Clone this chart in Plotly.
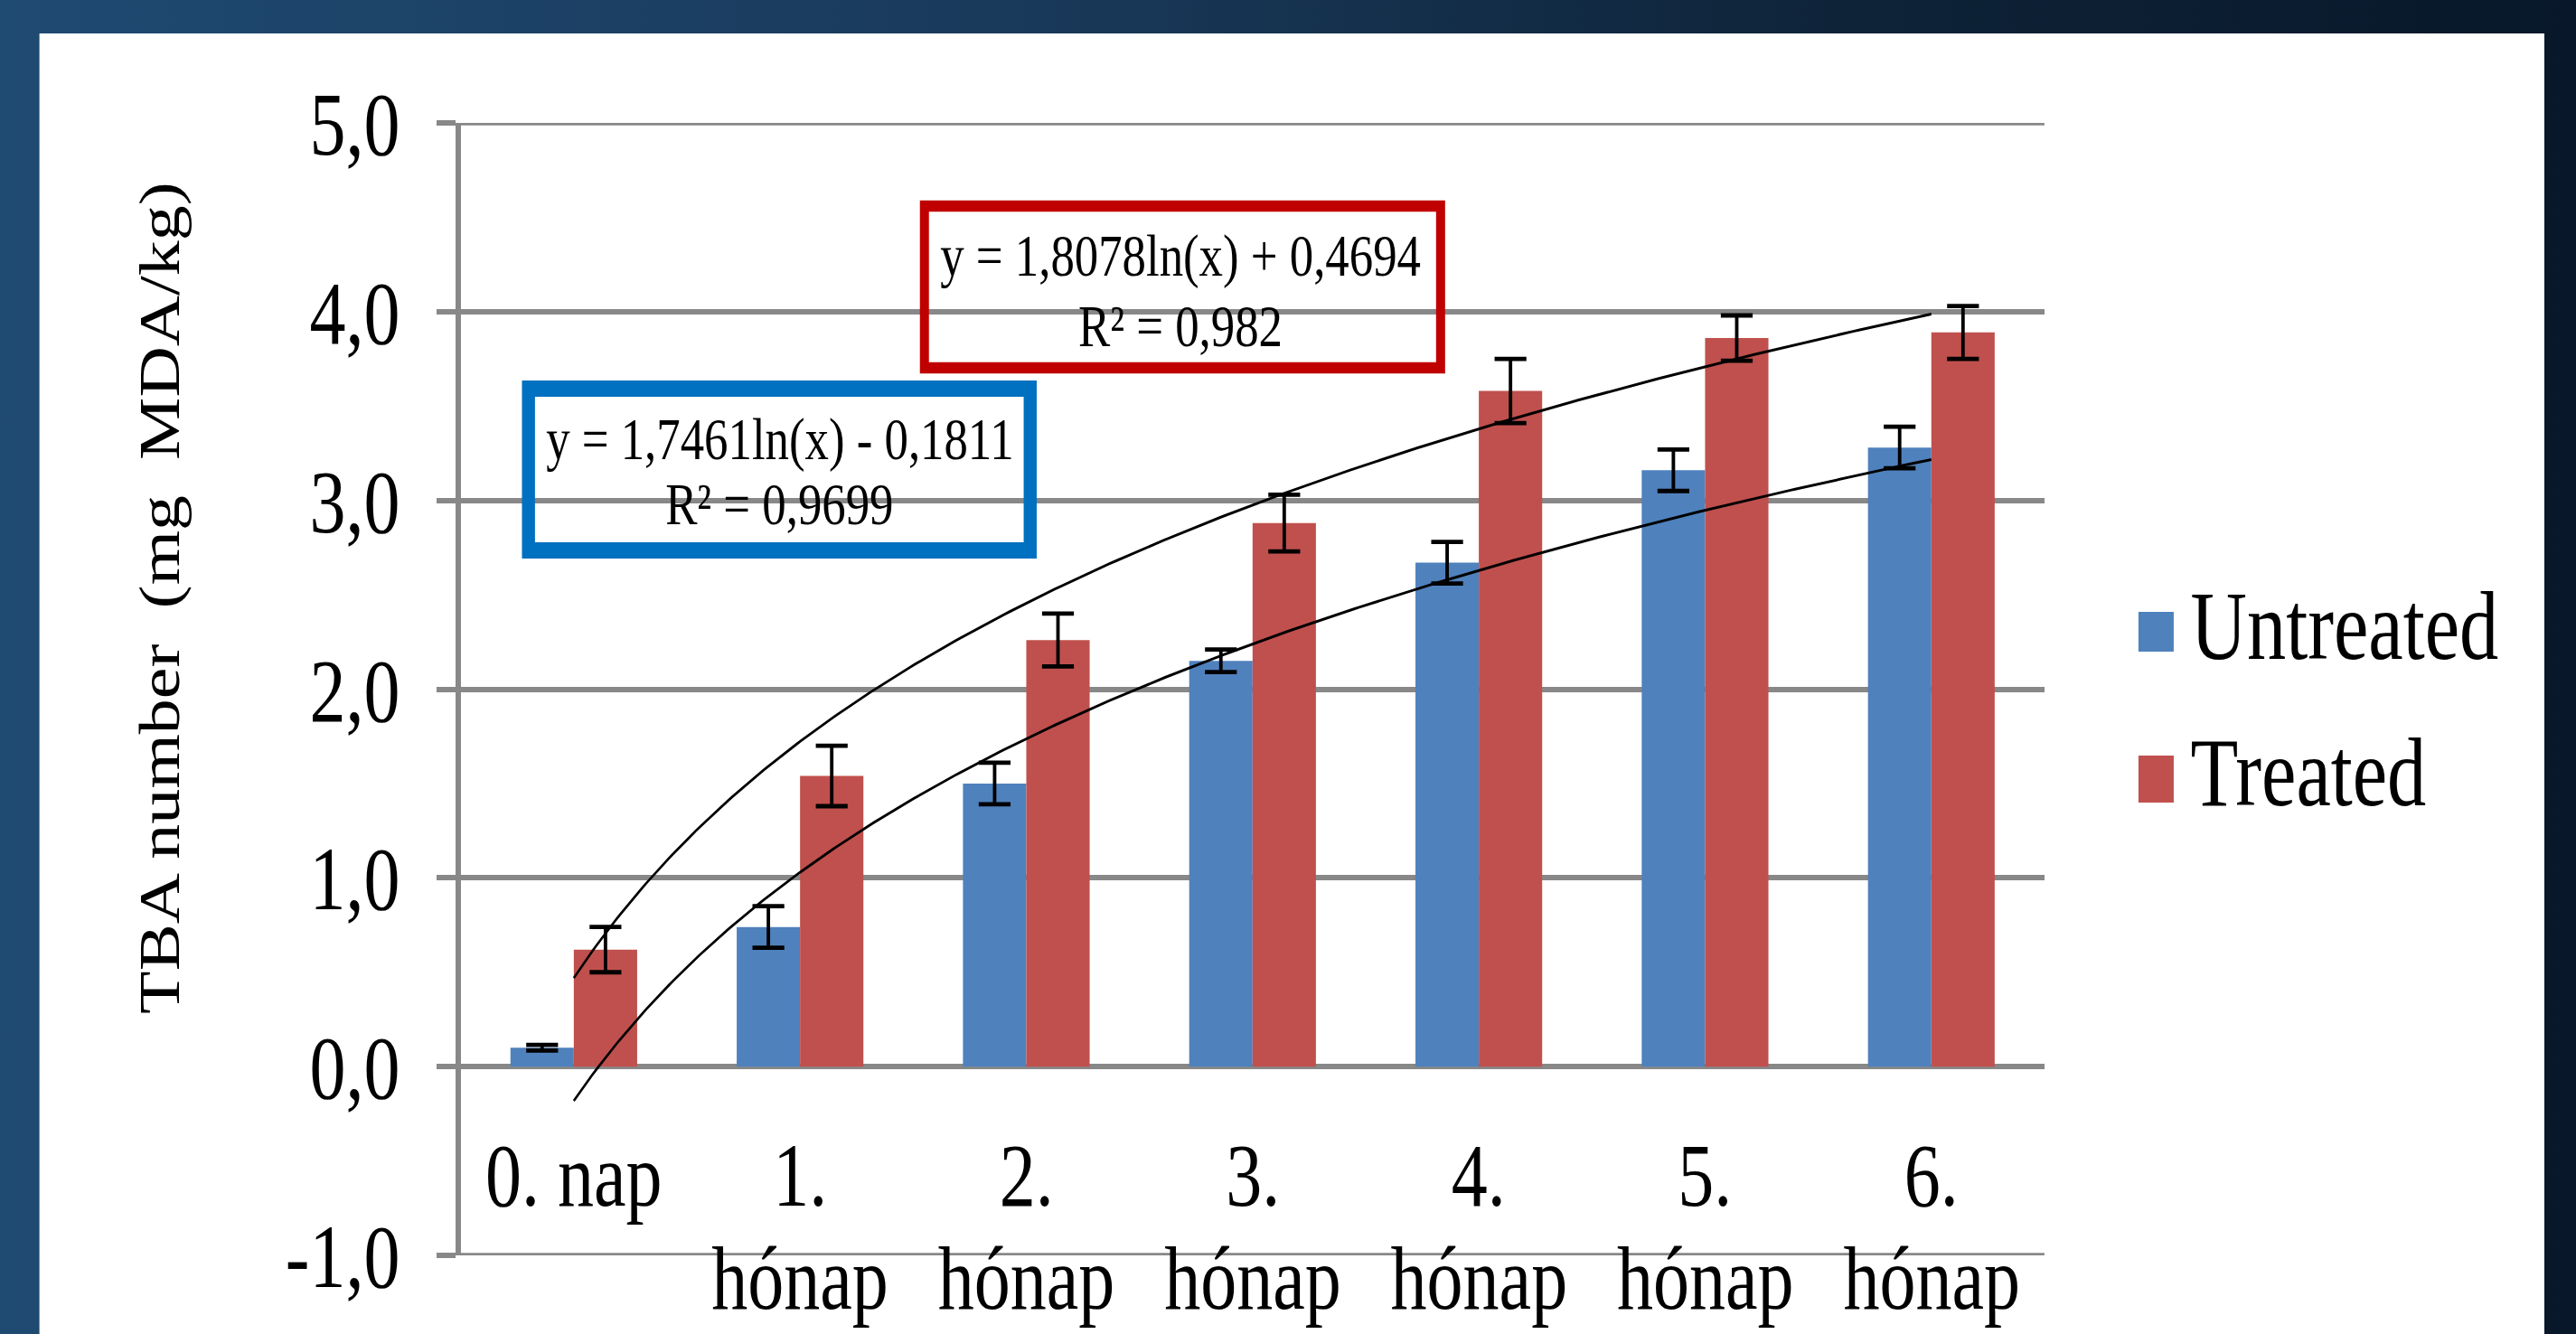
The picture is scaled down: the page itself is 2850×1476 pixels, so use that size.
import numpy as np
import plotly.graph_objects as go

# ---- data -------------------------------------------------------------
categories_line1 = ["0. nap", "1.", "2.", "3.", "4.", "5.", "6."]
categories_line2 = ["", "hónap", "hónap", "hónap", "hónap", "hónap", "hónap"]
series_names = ["Untreated", "Treated"]

untreated = [0.10, 0.74, 1.50, 2.15, 2.67, 3.16, 3.28]
untreated_err = [0.015, 0.11, 0.11, 0.06, 0.11, 0.11, 0.11]
treated = [0.62, 1.54, 2.26, 2.88, 3.58, 3.86, 3.89]
treated_err = [0.12, 0.16, 0.14, 0.15, 0.17, 0.12, 0.14]

# logarithmic trend lines y = a*ln(x) + b  (x = 1 .. 7)
trend_untreated = (1.7461, -0.1811)
r2_untreated = "0,9699"
trend_treated = (1.8078, 0.4694)
r2_treated = "0,982"

y_tickvals = [-1, 0, 1, 2, 3, 4, 5]
y_ticktext = ["-1,0", "0,0", "1,0", "2,0", "3,0", "4,0", "5,0"]

y_title = "TBA number\u00a0 (mg\u00a0 MDA/kg)"

# ---- page geometry ----------------------------------------------------
W, H = 2850, 1476
SX = 0.8                      # horizontal condensing applied to the page
WI = round(W / SX)            # internal layout width
SX = W / WI

PL, PR, PT, PB = 510, 2262, 136, 1389   # plot area on the page


def px(x):
    return (x - PL) / (PR - PL)


def py(y):
    return (PB - y) / (PB - PT)


FONT = "Liberation Serif"
BLUE = "#4F81BD"
RED = "#C0504D"
GRID = "#888888"

fig = go.Figure()

xs = list(range(len(categories_line1)))
fig.add_trace(go.Bar(
    x=xs, y=untreated, name=series_names[0], marker=dict(color=BLUE, line=dict(width=0)),
    error_y=dict(type="data", array=untreated_err, visible=True, color="black",
                 thickness=4.8, width=22),
))
fig.add_trace(go.Bar(
    x=xs, y=treated, name=series_names[1], marker=dict(color=RED, line=dict(width=0)),
    error_y=dict(type="data", array=treated_err, visible=True, color="black",
                 thickness=4.8, width=22),
))

# trend curves across category positions
t = np.linspace(0, len(xs) - 1, 300)
for a, b in (trend_treated, trend_untreated):
    fig.add_trace(go.Scatter(
        x=t, y=a * np.log(t + 1) + b, mode="lines",
        line=dict(color="black", width=3), hoverinfo="skip",
    ))


def fmt(v):
    return f"{abs(v):.4f}".replace(".", ",")


def equation(a, b):
    sign = "+" if b >= 0 else "-"
    return f"y = {fmt(a)}ln(x) {sign} {fmt(b)}"


shapes = [
    # white slide panel
    dict(type="rect", xref="paper", yref="paper", x0=px(44), x1=px(2815),
         y0=py(1500), y1=py(37), fillcolor="white", line=dict(width=0), layer="below"),
    # equation frames
    dict(type="rect", xref="paper", yref="paper", x0=px(1023), x1=px(1594),
         y0=py(407), y1=py(228), line=dict(color="#C00000", width=12.5)),
    dict(type="rect", xref="paper", yref="paper", x0=px(585), x1=px(1140),
         y0=py(609), y1=py(430), line=dict(color="#0070C0", width=18)),
    # legend swatches
    dict(type="rect", xref="paper", yref="paper", x0=px(2366), x1=px(2405),
         y0=py(721), y1=py(677), fillcolor=BLUE, line=dict(width=0)),
    dict(type="rect", xref="paper", yref="paper", x0=px(2366), x1=px(2405),
         y0=py(888), y1=py(836), fillcolor=RED, line=dict(width=0)),
]

# gridlines at both ends of the value range (with their tick stubs)
for v in (y_tickvals[0], y_tickvals[-1]):
    shapes.append(dict(type="line", xref="paper", yref="y", x0=px(489), x1=1,
                       y0=v, y1=v, line=dict(color=GRID, width=5.5), layer="below"))

annotations = []


def note(text, x, y, size, xref="paper", xanchor="center", angle=0):
    annotations.append(dict(
        text=text, x=x, y=y, xref=xref, yref="paper", xanchor=xanchor,
        yanchor="middle", showarrow=False, textangle=angle,
        font=dict(family=FONT, size=size, color="black"),
    ))


# category labels under the zero line
for i, (l1, l2) in enumerate(zip(categories_line1, categories_line2)):
    note(l1, i, py(1300), 100, xref="x")
    if l2:
        note(l2, i, py(1414), 100, xref="x")

# trend equations
note(equation(*trend_treated), px(1306), py(283), 66)
note(f"R² = {r2_treated}", px(1306), py(360), 66)
note(equation(*trend_untreated), px(863), py(486), 66)
note(f"R² = {r2_untreated}", px(863), py(557), 66)

# legend labels
note(series_names[0], px(2422), py(693), 108, xanchor="left")
note(series_names[1], px(2422), py(854), 108, xanchor="left")

# y axis title
note(y_title, px(178), py(662), 78, angle=-90)

fig.update_layout(
    width=WI, height=H,
    margin=dict(l=PL / SX, r=WI - PR / SX, t=PT, b=H - PB, pad=0, autoexpand=False),
    paper_bgcolor="rgba(0,0,0,0)",
    plot_bgcolor="white",
    barmode="group", bargap=0.44, bargroupgap=0,
    showlegend=False,
    shapes=shapes, annotations=annotations,
    font=dict(family=FONT, color="black"),
    xaxis=dict(range=[-0.5, len(xs) - 0.5], showgrid=False, showline=False,
               showticklabels=False, zeroline=False, ticks=""),
    yaxis=dict(range=[-1, 5], tickvals=y_tickvals, ticktext=y_ticktext,
               showgrid=True, gridcolor=GRID, gridwidth=5.5,
               showline=True, linecolor=GRID, linewidth=7,
               ticks="outside", ticklen=26, tickwidth=5.5, tickcolor=GRID,
               zeroline=False, ticklabelstandoff=31,
               tickfont=dict(family=FONT, size=100, color="black")),
)

post = """
var gd = document.getElementById('{plot_id}');
gd.style.transformOrigin = '0 0';
gd.style.transform = 'scaleX(%f)';
document.documentElement.style.overflow = 'hidden';
document.body.style.overflow = 'hidden';
document.body.style.margin = '0';
document.body.style.background =
  'linear-gradient(90deg, #1f4a72 0%%, #19395a 40%%, #0e2338 72%%, #08172a 100%%)';
""" % SX

fig.write_html("out.html", post_script=post, config={"displayModeBar": False})
